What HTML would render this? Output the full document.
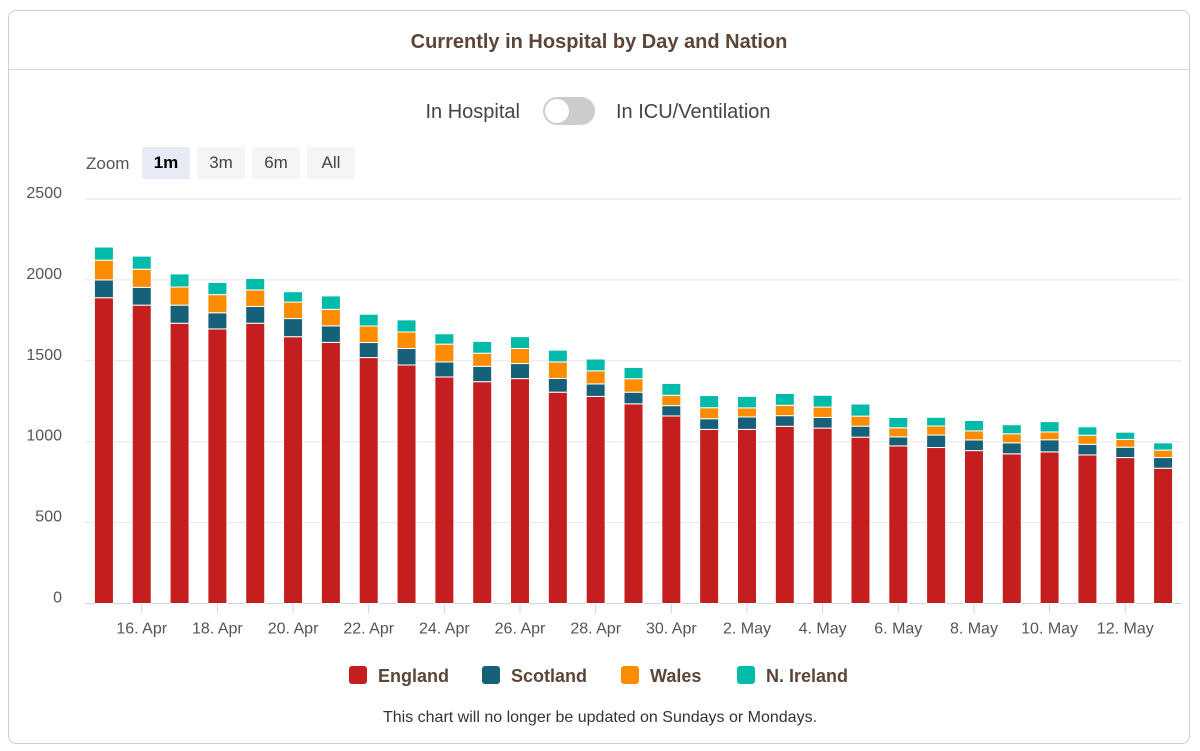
<!DOCTYPE html>
<html><head><meta charset="utf-8"><style>
body{margin:0;background:#fff;font-family:"Liberation Sans",sans-serif;}
.card{position:absolute;left:8px;top:10px;width:1182px;height:734px;border:1px solid #cfcfcf;border-radius:8px;box-sizing:border-box;}
.title{position:absolute;left:0;top:0;width:100%;height:58px;border-bottom:1px solid #d8d8d8;text-align:center;line-height:62px;font-weight:bold;font-size:20px;color:#5b4536;}
</style></head><body>
<div class="card">
<div class="title">Currently in Hospital by Day and Nation</div>
</div>
<svg id="c" width="1200" height="751" style="position:absolute;left:0;top:0" font-family="Liberation Sans, sans-serif">
<text x="520" y="118" text-anchor="end" font-size="20" fill="#444">In Hospital</text>
<g><rect x="543" y="97" width="52" height="28" rx="14" fill="#ccc"/><circle cx="557" cy="111" r="12" fill="#fff"/></g>
<text x="616" y="118" font-size="20" fill="#444">In ICU/Ventilation</text>
<text x="86" y="169" font-size="17" fill="#555">Zoom</text>
<g><rect x="142" y="147" width="48" height="32" rx="2" fill="#e6ebf5"/><text x="166" y="168" text-anchor="middle" font-size="17" font-weight="bold" fill="#000">1m</text></g>
<g><rect x="197" y="147" width="48" height="32" rx="2" fill="#f5f5f5"/><text x="221" y="168" text-anchor="middle" font-size="17" fill="#444">3m</text></g>
<g><rect x="252" y="147" width="48" height="32" rx="2" fill="#f5f5f5"/><text x="276" y="168" text-anchor="middle" font-size="17" fill="#444">6m</text></g>
<g><rect x="307" y="147" width="48" height="32" rx="2" fill="#f5f5f5"/><text x="331" y="168" text-anchor="middle" font-size="17" fill="#444">All</text></g>
<g id="grid"></g><g id="bars"></g><g id="axis"></g>
<g>
<g><rect x="349" y="666" width="18" height="18" rx="3" fill="#c41e1e"/><text x="378" y="682" font-size="18" font-weight="bold" fill="#5b4536">England</text></g>
<g><rect x="482" y="666" width="18" height="18" rx="3" fill="#17607a"/><text x="511" y="682" font-size="18" font-weight="bold" fill="#5b4536">Scotland</text></g>
<g><rect x="621" y="666" width="18" height="18" rx="3" fill="#fb8c00"/><text x="650" y="682" font-size="18" font-weight="bold" fill="#5b4536">Wales</text></g>
<g><rect x="737" y="666" width="18" height="18" rx="3" fill="#00bbaa"/><text x="766" y="682" font-size="18" font-weight="bold" fill="#5b4536">N. Ireland</text></g>
</g>
<text x="600" y="722" text-anchor="middle" font-size="16" fill="#333">This chart will no longer be updated on Sundays or Mondays.</text>
</svg>
<script>
const days=["15. Apr","16. Apr","17. Apr","18. Apr","19. Apr","20. Apr","21. Apr","22. Apr","23. Apr","24. Apr","25. Apr","26. Apr","27. Apr","28. Apr","29. Apr","30. Apr","1. May","2. May","3. May","4. May","5. May","6. May","7. May","8. May","9. May","10. May","11. May","12. May","13. May"];
const england=[1890,1844,1732,1697,1732,1649,1614,1520,1474,1400,1371,1390,1306,1280,1234,1159,1076,1076,1095,1084,1028,974,964,945,925,937,918,902,836];
const scotland=[110,110,112,100,104,112,102,93,102,93,95,93,85,77,72,64,66,77,66,66,68,56,77,66,68,75,66,64,66];
const wales=[122,112,112,112,102,102,102,102,102,110,81,93,102,81,83,64,68,56,64,64,62,56,56,56,56,48,56,48,46];
const nireland=[81,81,81,75,71,64,83,73,75,64,73,73,73,73,70,73,75,71,73,73,75,64,54,64,56,64,52,45,45];
const yTicks=[0,500,1000,1500,2000,2500];
const ns="http://www.w3.org/2000/svg";
const L=85,R=1182,Y0=603.5,K=(603.5-199)/2500;
const bw=(R-L)/days.length;
const y=v=>Y0-v*K, xc=i=>L+bw*(i+0.5);
function mk(t,a,p){const e=document.createElementNS(ns,t);for(const k in a)e.setAttribute(k,a[k]);p.appendChild(e);return e;}
const G=document.getElementById('grid'),B=document.getElementById('bars'),A=document.getElementById('axis');
yTicks.forEach(v=>{
 const l=mk('line',{x1:L,x2:R,y1:y(v),y2:y(v),stroke:v?'#e6e6e6':'#ccd6eb','stroke-width':1},G);
 
 
 const t=mk('text',{x:62,y:y(v)-1,'text-anchor':'end','font-size':16,fill:'#555'},A);t.textContent=v;
 
 
});
const series=[[england,'#c41e1e','england'],[scotland,'#17607a','scotland'],[wales,'#fb8c00','wales'],[nireland,'#00bbaa','n-ireland']];
days.forEach((d,i)=>{
 let base=0;
 series.forEach(([arr,col,nm])=>{
  const v=arr[i];
  const r=mk('rect',{x:xc(i)-9.5,y:y(base+v),width:19,height:v*K,fill:col,stroke:'#fff','stroke-width':1},B);
  
  
  base+=v;
 });
 if(i%2==1){
  mk('line',{x1:xc(i),x2:xc(i),y1:Y0,y2:Y0+10,stroke:'#ccd6eb'},A);
  const t=mk('text',{x:xc(i),y:Y0+30,'text-anchor':'middle','font-size':16,fill:'#555'},A);t.textContent=d;
  
  
 }
});
</script>
</body></html>
